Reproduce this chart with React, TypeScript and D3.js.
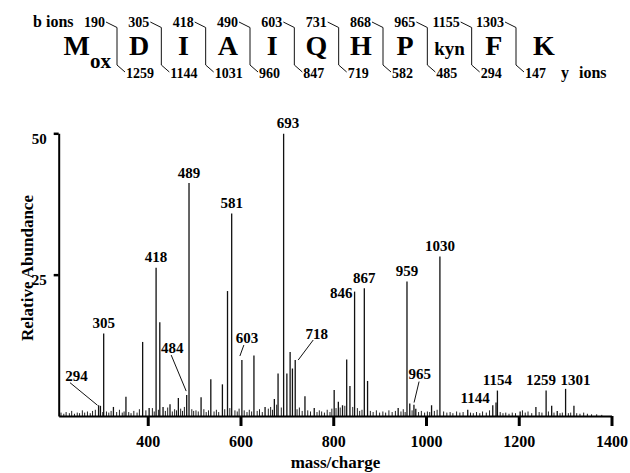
import React, { useEffect, useRef } from 'react';
import * as d3 from 'd3';

// peptide header
const residues = ['M', 'D', 'I', 'A', 'I', 'Q', 'H', 'P', 'kyn', 'F', 'K'];
const bIons = [190, 305, 418, 490, 603, 731, 868, 965, 1155, 1303];
const yIons = [1259, 1144, 1031, 960, 847, 719, 582, 485, 294, 147];

// main peaks [m/z, relative abundance]
const peaks: [number, number][] = [
  [294, 1.9], [298, 1.8], [305, 14.6], [326, 1.6], [353, 3.4], [389, 13.1],
  [403, 1.4], [418, 26.2], [426, 16.6], [433, 1.6], [448, 2.1], [466, 3.2],
  [484, 3.7], [489, 41.2], [515, 3.3], [536, 6.5], [561, 5.6], [572, 22.1],
  [581, 35.8], [603, 9.9], [629, 10.7], [653, 1.6], [673, 3.0], [681, 7.5],
  [693, 49.9], [700, 7.5], [707, 11.3], [712, 8.4], [718, 9.9], [739, 3.5],
  [759, 1.4], [802, 4.6], [811, 2.5], [820, 1.9], [829, 10.0], [836, 5.3],
  [846, 22.0], [867, 22.6], [874, 6.2], [940, 1.4], [959, 23.8], [965, 2.2],
  [974, 2.0], [978, 1.3], [1012, 1.9], [1030, 28.2], [1090, 1.1], [1144, 1.9],
  [1151, 2.4], [1154, 4.5], [1203, 0.8], [1237, 1.6], [1259, 4.5], [1271, 1.8],
  [1283, 0.9], [1301, 4.8], [1319, 1.8],
];

// baseline noise [m/z, relative abundance]
const noise: [number, number][] = [
  [213, 0.6], [219, 0.4], [224, 0.7], [231, 0.5], [236, 0.9], [242, 0.4],
  [248, 0.6], [253, 0.5], [259, 1.0], [264, 0.6], [270, 0.8], [276, 0.5],
  [281, 0.9], [287, 1.1], [303, 0.7], [311, 0.8], [316, 0.6], [321, 0.9],
  [333, 0.7], [339, 1.1], [345, 0.6], [349, 0.8], [359, 0.7], [364, 0.5],
  [370, 0.9], [377, 0.6], [382, 1.2], [396, 1.0], [410, 1.4], [414, 0.8],
  [423, 1.1], [438, 0.9], [443, 1.5], [453, 0.8], [458, 1.2], [462, 1.0],
  [471, 1.3], [475, 0.9], [479, 1.6], [495, 1.2], [499, 0.9], [504, 1.0],
  [509, 0.8], [521, 1.2], [526, 0.7], [531, 1.0], [543, 0.8], [548, 1.1],
  [553, 0.7], [566, 1.2], [577, 1.4], [588, 1.0], [593, 0.8], [597, 1.3],
  [608, 1.0], [614, 0.7], [619, 1.1], [624, 0.8], [636, 0.9], [641, 1.2],
  [647, 0.7], [660, 1.3], [665, 1.6], [669, 1.1], [678, 2.0], [688, 1.5],
  [722, 1.2], [727, 1.5], [733, 0.9], [745, 1.0], [751, 0.8], [765, 0.7],
  [770, 1.0], [775, 0.8], [781, 0.6], [787, 1.1], [793, 0.7], [797, 1.3],
  [806, 1.4], [815, 1.5], [825, 1.8], [842, 1.6], [852, 1.4], [857, 0.9],
  [862, 1.1], [880, 0.9], [886, 0.7], [893, 1.0], [900, 0.6], [907, 0.8],
  [913, 0.6], [920, 1.0], [927, 0.7], [934, 0.9], [946, 0.8], [951, 1.2],
  [955, 0.7], [970, 1.0], [984, 0.7], [990, 0.9], [997, 0.6], [1003, 0.8],
  [1008, 0.7], [1018, 0.9], [1024, 1.1], [1038, 0.8], [1045, 0.6], [1052, 0.7],
  [1058, 0.5], [1066, 0.8], [1073, 0.6], [1080, 0.7], [1096, 0.6], [1102, 0.5],
  [1109, 0.7], [1116, 0.5], [1122, 0.8], [1130, 0.6], [1137, 1.0], [1160, 0.7],
  [1166, 0.5], [1172, 0.6], [1179, 0.4], [1186, 0.6], [1193, 0.5], [1208, 1.0],
  [1214, 0.6], [1220, 0.8], [1228, 0.5], [1244, 0.7], [1250, 0.6], [1264, 0.8],
  [1276, 0.6], [1289, 0.5], [1294, 0.6], [1307, 0.5], [1312, 0.6], [1325, 0.5],
  [1332, 0.4], [1340, 0.6], [1348, 0.4], [1357, 0.3], [1368, 0.3], [1379, 0.2],
];

// labelled peaks
const labelMz = [294, 305, 418, 484, 489, 581, 603, 693, 718, 846, 867, 959, 965, 1030, 1144, 1154, 1259, 1301];

const xTicks = [400, 600, 800, 1000, 1200, 1400];
const yTicks = [25, 50];

const FONT = 'Liberation Serif, DejaVu Serif, serif';

type LabelPos = { dx: number; dy: number; anchor?: string; leader?: [number, number, number, number] };
const labelPos: Record<number, LabelPos> = {
  294: { dx: -22, dy: -24, leader: [-28.6, -22.6, -1.1, 0] },
  484: { dx: -14.5, dy: -42, leader: [-15.5, -40, -0.5, -4] },
  603: { dx: 5, dy: -17.5, leader: [2, -15, -2, -4] },
  693: { dx: 4.5, dy: -5.5 },
  718: { dx: 21.5, dy: -21, leader: [18, -20, 3, 0] },
  846: { dx: -2, dy: 6, anchor: 'end' },
  965: { dx: 10, dy: -24.6, leader: [9.3, -22, 4.3, -1] },
  1144: { dx: -3, dy: -2, anchor: 'end' },
  1259: { dx: -5, dy: -5.6 },
  1301: { dx: 10, dy: -4 },
};

const App = () => {
  const svgRef = useRef<SVGSVGElement>(null);

  useEffect(() => {
    const width = 630;
    const height = 473;
    const svg = d3.select(svgRef.current);
    svg.selectAll('*').remove();
    svg.attr('width', width).attr('height', height)
      .attr('font-family', FONT).attr('font-weight', 'bold');

    svg.append('rect').attr('width', width).attr('height', height).attr('fill', 'white');

    // ---- sequence header ----
    const head = svg.append('g');
    const sep = d3.scaleLinear().domain([0, 9]).range([117, 516]);

    head.append('text').attr('x', 73.5).attr('y', 26.5).attr('text-anchor', 'end')
      .attr('font-size', 16).text('b ions');

    bIons.forEach((b, i) => {
      const s = sep(i);
      head.append('text').attr('x', s - 12).attr('y', 26.5).attr('text-anchor', 'end')
        .attr('font-size', 14).text(b);
      head.append('path')
        .attr('d', `M${s - 11},22 L${s},27.5 L${s},65 L${s + 8},72`)
        .attr('fill', 'none').attr('stroke', '#111').attr('stroke-width', 1);
      head.append('text').attr('x', s + 9).attr('y', 78).attr('text-anchor', 'start')
        .attr('font-size', 14).text(yIons[i]);
    });

    residues.forEach((r, i) => {
      if (i === 0) {
        const t = head.append('text').attr('x', sep(0) - 6).attr('y', 55).attr('text-anchor', 'end')
          .attr('font-size', 28);
        t.append('tspan').text(r);
        t.append('tspan').attr('dy', 13).attr('font-size', 21).text('ox');
        return;
      }
      const cx = i === residues.length - 1 ? sep(9) + 28 : (sep(i - 1) + sep(i)) / 2;
      head.append('text').attr('x', cx).attr('y', 55).attr('text-anchor', 'middle')
        .attr('font-size', r.length > 1 ? 19 : 28).text(r);
    });

    head.append('text').attr('x', 561).attr('y', 78).attr('text-anchor', 'start')
      .attr('font-size', 16).attr('word-spacing', 6).text('y ions');

    // ---- spectrum ----
    const x = d3.scaleLinear().domain([208, 1400]).range([58.7, 611.5]);
    const y = d3.scaleLinear().domain([0, 50]).range([416, 133.3]);

    svg.append('g').selectAll('line').data(noise).enter().append('line')
      .attr('x1', d => x(d[0])).attr('x2', d => x(d[0]))
      .attr('y1', y(0)).attr('y2', d => y(d[1]))
      .attr('stroke', '#222').attr('stroke-width', 1);

    svg.append('g').selectAll('line').data(peaks).enter().append('line')
      .attr('x1', d => x(d[0])).attr('x2', d => x(d[0]))
      .attr('y1', y(0)).attr('y2', d => y(d[1]))
      .attr('stroke', '#111').attr('stroke-width', 1.3);

    // peak labels
    const labels = svg.append('g').attr('font-size', 15);
    labelMz.forEach(m => {
      const p = peaks.find(d => d[0] === m);
      if (!p) return;
      const px = x(p[0]);
      const py = y(p[1]);
      const pos = labelPos[m] || { dx: 0, dy: -5.5 };
      labels.append('text').attr('x', px + pos.dx).attr('y', py + pos.dy)
        .attr('text-anchor', pos.anchor || 'middle').text(m);
      if (pos.leader) {
        const [x1, y1, x2, y2] = pos.leader;
        labels.append('line')
          .attr('x1', px + x1).attr('y1', py + y1).attr('x2', px + x2).attr('y2', py + y2)
          .attr('stroke', '#111').attr('stroke-width', 1);
      }
    });

    // x axis
    const xAxis = svg.append('g').attr('transform', `translate(0,${y(0)})`)
      .call(d3.axisBottom(x).tickValues(xTicks).tickFormat(d3.format('d'))
        .tickSize(10).tickSizeOuter(0).tickPadding(9.6));
    xAxis.attr('font-family', FONT).attr('font-size', 16);
    xAxis.select('.domain').attr('stroke', '#000').attr('stroke-width', 2);
    xAxis.selectAll('.tick line').attr('stroke', '#000').attr('stroke-width', 3);
    xAxis.selectAll('.tick text').attr('fill', '#000');

    // y axis
    const yAxis = svg.append('g').attr('transform', `translate(${x(208)},0)`)
      .call(d3.axisLeft(y).tickValues(yTicks).tickSize(5).tickSizeOuter(0).tickPadding(7));
    yAxis.attr('font-family', FONT).attr('font-size', 15);
    yAxis.select('.domain').attr('stroke', '#000').attr('stroke-width', 2);
    yAxis.selectAll('.tick line').attr('stroke', '#000').attr('stroke-width', 2.5);
    yAxis.selectAll('.tick text').attr('fill', '#000').attr('dy', '0.66em');

    // axis titles
    svg.append('text').attr('x', 335.5).attr('y', 468).attr('text-anchor', 'middle')
      .attr('font-size', 17).text('mass/charge');
    svg.append('text').attr('transform', 'translate(33,268) rotate(-90)')
      .attr('text-anchor', 'middle').attr('font-size', 17).text('Relative Abundance');
  }, []);

  return (
    <svg ref={svgRef} style={{ position: 'absolute', left: 0, top: 0, display: 'block' }} />
  );
};

export default App;
